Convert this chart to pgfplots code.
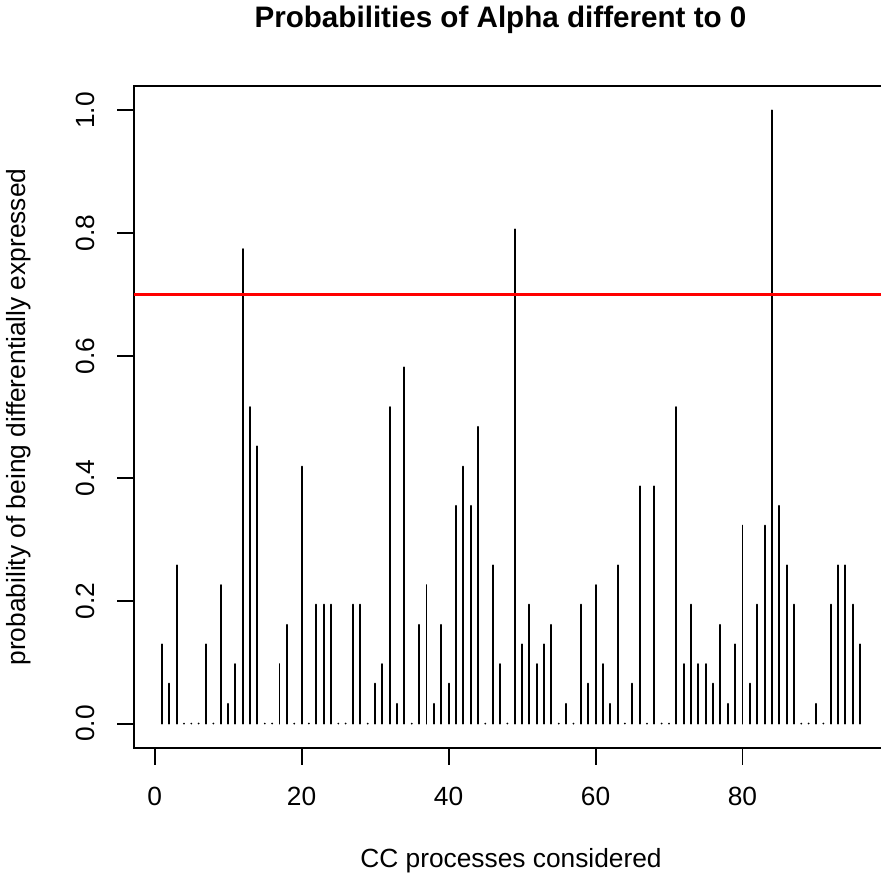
\documentclass[border=0pt]{standalone}
\usepackage{fontspec}
\setmainfont{Liberation Sans}
\usepackage{pgfplots}
\pgfplotsset{compat=1.18}

% probability per CC process (counts out of 31 draws)
\pgfplotstableread{
x y
1 0.129
2 0.065
3 0.258
4 0
5 0
6 0
7 0.129
8 0
9 0.226
10 0.032
11 0.097
12 0.774
13 0.516
14 0.452
15 0
16 0
17 0.097
18 0.161
19 0
20 0.419
21 0
22 0.194
23 0.194
24 0.194
25 0
26 0
27 0.194
28 0.194
29 0
30 0.065
31 0.097
32 0.516
33 0.032
34 0.581
35 0
36 0.161
37 0.226
38 0.032
39 0.161
40 0.065
41 0.355
42 0.419
43 0.355
44 0.484
45 0
46 0.258
47 0.097
48 0
49 0.806
50 0.129
51 0.194
52 0.097
53 0.129
54 0.161
55 0
56 0.032
57 0
58 0.194
59 0.065
60 0.226
61 0.097
62 0.032
63 0.258
64 0
65 0.065
66 0.387
67 0
68 0.387
69 0
70 0
71 0.516
72 0.097
73 0.194
74 0.097
75 0.097
76 0.065
77 0.161
78 0.032
79 0.129
80 0.323
81 0.065
82 0.194
83 0.323
84 1.000
85 0.355
86 0.258
87 0.194
88 0
89 0
90 0.032
91 0
92 0.194
93 0.258
94 0.258
95 0.194
96 0.129
}\probs

\begin{document}
\begin{tikzpicture}
\begin{axis}[
    name=ax,
    scale only axis,
    width=343.8pt, height=301.9pt,
    xmin=-2.8, xmax=99.8, ymin=-0.04, ymax=1.04,
    xtick={0,20,40,60,80},
    xticklabels={0,20,40,60,80},
    ytick={0,0.2,0.4,0.6,0.8,1},
    yticklabels={0.0,0.2,0.4,0.6,0.8,1.0},
    xtick pos=bottom, ytick pos=left,
    tick align=outside,
    major tick length=7.6pt,
    every tick/.style={black, line width=0.9pt},
    axis line style={line width=0.9pt},
    tick label style={font=\fontsize{12}{14}\selectfont},
    xticklabel style={anchor=base},
    yticklabel style={rotate=90, anchor=base},
    xticklabel shift=18.8pt,
    yticklabel shift=10.4pt,
  ]
  \addplot[ycomb, black, line width=0.9pt, line cap=round] table[x=x, y=y] {\probs};
  \addplot[red, line width=1.4pt] coordinates {(-2.8,0.7) (99.8,0.7)};
\end{axis}
\node[anchor=base, font=\fontsize{13.5}{16}\selectfont\bfseries]
  at ([xshift=-4.8pt, yshift=26.8pt]ax.north) {Probabilities of Alpha different to 0};
\node[anchor=base, font=\fontsize{12}{14}\selectfont]
  at ([yshift=-54.3pt]ax.south) {CC processes considered};
\node[anchor=base, rotate=90, font=\fontsize{12}{14}\selectfont]
  at ([xshift=-49.4pt]ax.west) {probability of being differentially expressed};
\pgfresetboundingbox
\path[use as bounding box] ([shift={(-61.1pt,-57.0pt)}]ax.south west)
  rectangle ([shift={(340.6pt,341.1pt)}]ax.south west);
\end{tikzpicture}
\end{document}
